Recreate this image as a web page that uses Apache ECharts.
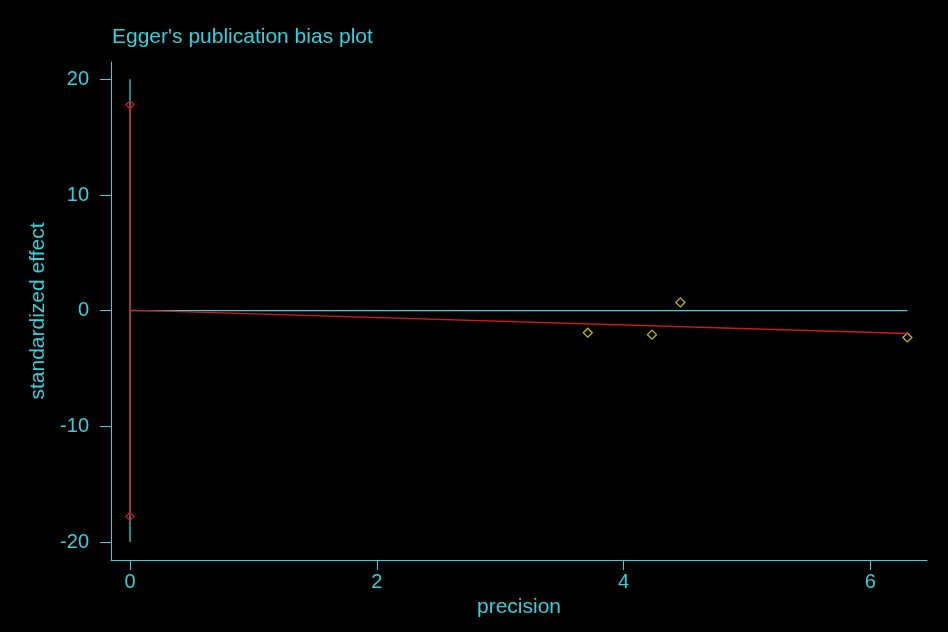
<!DOCTYPE html>
<html>
<head>
<meta charset="utf-8">
<script src="https://cdn.jsdelivr.net/npm/echarts@6/dist/echarts.min.js"></script>
<style>
  html, body { margin: 0; padding: 0; background: #000; }
  #chart { width: 948px; height: 632px; }
</style>
</head>
<body>
<div id="chart"></div>
<script type="text/javascript">
// study points: precision vs standardized effect
var precision = [3.71, 4.23, 4.46, 6.30];
var stdEffect = [-1.90, -2.07, 0.72, -2.31];
// intercept confidence interval (drawn at precision 0)
var ciLow = -17.8;
var ciHigh = 17.8;
// fitted regression line ends
var fitX = [0, 6.30];
var fitY = [0.05, -1.97];
// reference lines
var vRef = [-20, 20];
var hRefEnd = 6.30;
// tick labels
var xTicks = [0, 2, 4, 6];
var yTicks = [-20, -10, 0, 10, 20];

var cyan = '#33d1dd';
var red = '#d01a1a';
var yellow = '#eeee00';
var font = 'Liberation Sans, Arial, sans-serif';

var myChart = echarts.init(document.getElementById('chart'));
var option = {
    backgroundColor: '#000',
    animation: false,
    title: {
        text: "Egger's publication bias plot",
        left: 107,
        top: 22,
        textStyle: { color: cyan, fontSize: 21, fontWeight: 'normal', fontFamily: font }
    },
    grid: { left: 111, right: 21, top: 62, bottom: 72, outerBoundsMode: 'none', containLabel: false },
    xAxis: {
        type: 'value',
        min: -0.154,
        max: 6.459,
        name: 'precision',
        nameLocation: 'middle',
        nameGap: 34,
        nameTextStyle: { color: cyan, fontSize: 21, fontFamily: font },
        axisLine: { show: true, onZero: false, lineStyle: { color: cyan, width: 1 } },
        axisTick: { show: true, length: 10, customValues: xTicks, lineStyle: { color: cyan } },
        axisLabel: { color: cyan, fontSize: 20, fontFamily: font, margin: 12, customValues: xTicks },
        splitLine: { show: false }
    },
    yAxis: {
        type: 'value',
        min: -21.55,
        max: 21.5,
        name: 'standardized effect',
        nameLocation: 'middle',
        nameGap: 59,
        nameTextStyle: { color: cyan, fontSize: 21, fontFamily: font },
        axisLine: { show: true, onZero: false, lineStyle: { color: cyan, width: 1 } },
        axisTick: { show: true, length: 11, customValues: yTicks, lineStyle: { color: cyan } },
        axisLabel: { color: cyan, fontSize: 20, fontFamily: font, margin: 22, customValues: yTicks },
        splitLine: { show: false }
    },
    series: [
        {
            type: 'line', silent: true, symbol: 'none',
            data: [[0, vRef[0]], [0, vRef[1]]],
            lineStyle: { color: cyan, width: 1.3 }
        },
        {
            type: 'line', silent: true, symbol: 'none',
            data: [[0, 0], [hRefEnd, 0]],
            lineStyle: { color: cyan, width: 1.3 }
        },
        {
            type: 'line', silent: true,
            symbol: 'diamond', symbolSize: 8,
            data: [[0, ciLow], [0, ciHigh]],
            lineStyle: { color: red, width: 1.4 },
            itemStyle: { color: 'transparent', borderColor: red, borderWidth: 1.3 }
        },
        {
            type: 'line', silent: true, symbol: 'none',
            data: [[fitX[0], fitY[0]], [fitX[1], fitY[1]]],
            lineStyle: { color: red, width: 1.4 }
        },
        {
            type: 'scatter', silent: true,
            symbol: 'diamond', symbolSize: 9,
            data: precision.map(function (p, i) { return [p, stdEffect[i]]; }),
            itemStyle: { color: 'transparent', borderColor: yellow, borderWidth: 1.3 }
        }
    ]
};
myChart.setOption(option);
</script>
</body>
</html>
